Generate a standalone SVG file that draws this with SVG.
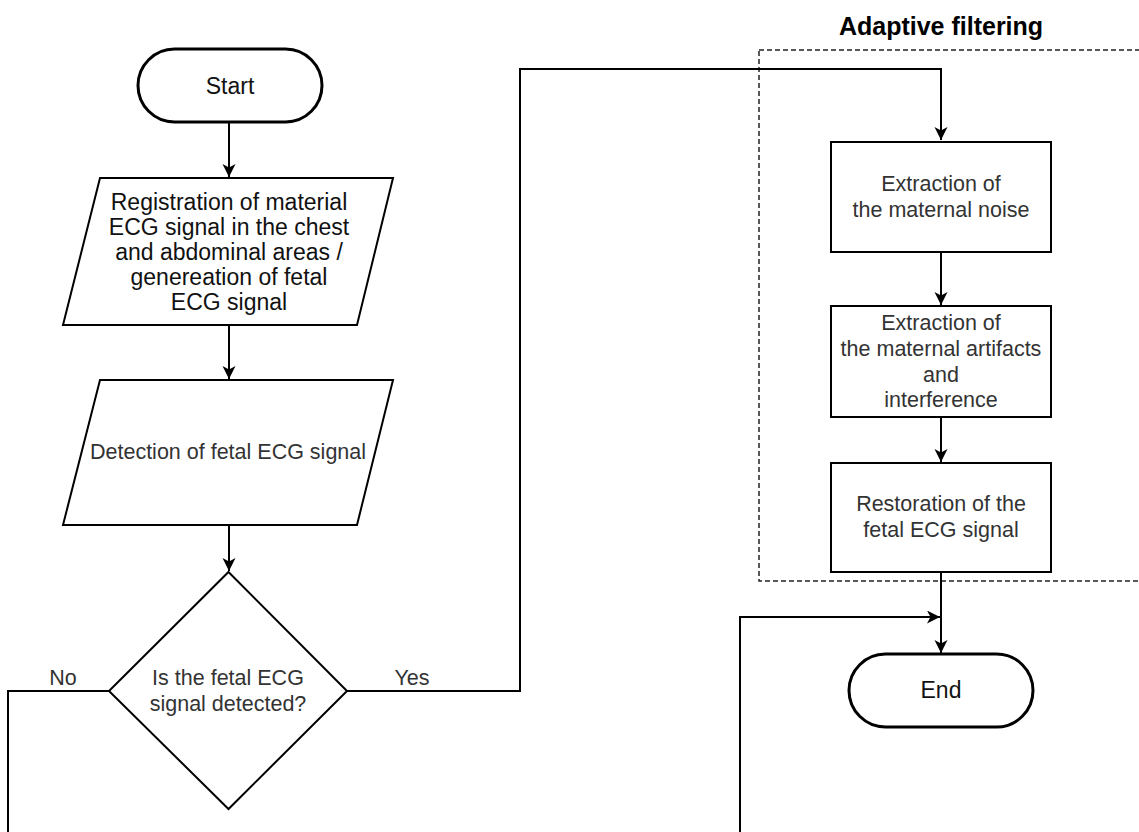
<svg xmlns="http://www.w3.org/2000/svg" width="1139" height="832" viewBox="0 0 1139 832">
<style>
  .shape { fill: #fff; stroke: #000; stroke-width: 2; }
  .term { fill: #fff; stroke: #000; stroke-width: 3; }
  .conn { fill: none; stroke: #000; stroke-width: 2; }
  .group { fill: none; stroke: #222; stroke-width: 1.5; stroke-dasharray: 5 3; }
  .big { font-family: "Liberation Sans", Arial, sans-serif; font-size: 23px; fill: #111; text-anchor: middle; }
  .txt { font-family: "Liberation Sans", Arial, sans-serif; font-size: 21.5px; fill: #333; text-anchor: middle; }
  .title { font-family: "Liberation Sans", Arial, sans-serif; font-size: 25px; font-weight: bold; fill: #000; text-anchor: middle; }
</style>
<defs>
  <marker id="arrow" markerUnits="userSpaceOnUse" markerWidth="14" markerHeight="14" refX="13" refY="6.5" orient="auto">
    <path d="M0,0 L13,6.5 L0,13 L3.5,6.5 Z" fill="#000"/>
  </marker>
</defs>
<rect width="1139" height="832" fill="#fff"/>

<g id="adaptive-filtering">
  <rect class="group" x="759" y="50" width="400" height="531"/>
  <text class="title" x="941" y="35">Adaptive filtering</text>
</g>

<g id="connectors">
  <path class="conn" d="M229,122 L229,177" marker-end="url(#arrow)"/>
  <path class="conn" d="M229,325 L229,379" marker-end="url(#arrow)"/>
  <path class="conn" d="M229,525 L229,571" marker-end="url(#arrow)"/>
  <path class="conn" d="M347,691 L520,691 L520,69 L941,69 L941,140" marker-end="url(#arrow)"/>
  <path class="conn" d="M941,252 L941,305" marker-end="url(#arrow)"/>
  <path class="conn" d="M941,417 L941,462" marker-end="url(#arrow)"/>
  <path class="conn" d="M941,572 L941,653" marker-end="url(#arrow)"/>
  <path class="conn" d="M109,691 L8,691 L8,832"/>
  <path class="conn" d="M740,832 L740,617 L940,617" marker-end="url(#arrow)"/>
  <text class="txt" x="63" y="685">No</text>
  <text class="txt" x="412" y="685">Yes</text>
</g>

<g id="start">
  <rect class="term" x="138" y="49" width="184" height="73" rx="36.5" ry="36.5"/>
  <text class="big" x="230" y="94">Start</text>
</g>

<g id="registration">
  <polygon class="shape" points="100,178 393,178 357,325 63,325"/>
  <text class="big" x="229" y="210">Registration of material</text>
  <text class="big" x="229" y="235">ECG signal in the chest</text>
  <text class="big" x="229" y="260">and abdominal areas /</text>
  <text class="big" x="229" y="285">genereation of fetal</text>
  <text class="big" x="229" y="310">ECG signal</text>
</g>

<g id="detection">
  <polygon class="shape" points="100,380 393,380 357,525 63,525"/>
  <text class="txt" x="228" y="459">Detection of fetal ECG signal</text>
</g>

<g id="decision">
  <polygon class="shape" points="228.5,572 347,691 228.5,809 109,691"/>
  <text class="txt" x="228" y="685">Is the fetal ECG</text>
  <text class="txt" x="228" y="711">signal detected?</text>
</g>

<g id="extract-noise">
  <rect class="shape" x="831" y="142" width="220" height="110"/>
  <text class="txt" x="941" y="191">Extraction of</text>
  <text class="txt" x="941" y="217">the maternal noise</text>
</g>

<g id="extract-artifacts">
  <rect class="shape" x="831" y="306" width="220" height="111"/>
  <text class="txt" x="941" y="330">Extraction of</text>
  <text class="txt" x="941" y="356">the maternal artifacts</text>
  <text class="txt" x="941" y="382">and</text>
  <text class="txt" x="941" y="407">interference</text>
</g>

<g id="restoration">
  <rect class="shape" x="831" y="463" width="220" height="109"/>
  <text class="txt" x="941" y="511">Restoration of the</text>
  <text class="txt" x="941" y="537">fetal ECG signal</text>
</g>

<g id="end">
  <rect class="term" x="849" y="654" width="184" height="73" rx="36.5" ry="36.5"/>
  <text class="big" x="941" y="698">End</text>
</g>
</svg>
